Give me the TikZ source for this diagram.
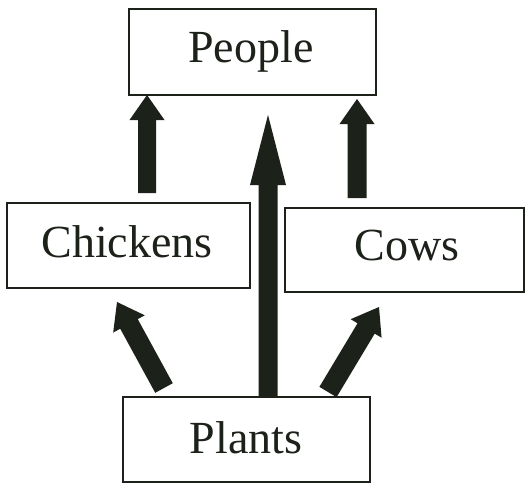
\documentclass[tikz,border=0pt]{standalone}
\usepackage{fontspec}
\setmainfont{Liberation Serif}
\usetikzlibrary{calc}
\definecolor{ink}{HTML}{1C2119}
\newcommand\blockarr[5]{% start, end, head length, shaft half width, head half width
  \coordinate (hb) at ($(#2)!#3!(#1)$);
  \fill[ink] ($(#1)!#4!90:(#2)$) -- ($(hb)!#4!-90:(#1)$) -- ($(hb)!#5!-90:(#1)$)
    -- (#2) -- ($(hb)!#5!90:(#1)$) -- ($(hb)!#4!90:(#1)$) -- ($(#1)!#4!-90:(#2)$) -- cycle;}
\begin{document}
\begin{tikzpicture}[x=1pt,y=-1pt,
  box/.style={draw=ink,line width=1.3pt,rectangle,inner sep=0pt},
  lbl/.style={anchor=base,inner sep=0pt,text=ink,font=\fontsize{46}{46}\selectfont}]
\useasboundingbox[fill=white] (0,0) rectangle (526,484);
% boxes
\node[box,minimum width=247pt,minimum height=86pt] (people) at (252.5,52) {};
\node[box,minimum width=243pt,minimum height=85pt] (chickens) at (128.5,245.5) {};
\node[box,minimum width=239pt,minimum height=84pt] (cows) at (404.5,250) {};
\node[box,minimum width=247pt,minimum height=85pt] (plants) at (246.5,439.5) {};
% labels
\node[lbl] (tpeople) at (251,63) {People};
\node[lbl] (tchickens) at (127,257) {Chickens};
\node[lbl] (tcows) at (407,260) {Cows};
\node[lbl] (tplants) at (246,453) {Plants};
% arrow endpoints
\coordinate (a1s) at (147,193);
\coordinate (a1e) at (147,95);
\coordinate (a2s) at (357,198);
\coordinate (a2e) at (357,99);
\coordinate (a3s) at (268,397);
\coordinate (a3e) at (268,115);
\coordinate (a4s) at (164,388);
\coordinate (a4e) at (117,302);
\coordinate (a5s) at (328,392);
\coordinate (a5e) at (379,307);
% arrows
\blockarr{a1s}{a1e}{25pt}{9pt}{17.5pt}
\blockarr{a2s}{a2e}{25pt}{9.5pt}{17.5pt}
\blockarr{a3s}{a3e}{70pt}{9.5pt}{18pt}
\blockarr{a4s}{a4e}{25pt}{10pt}{18pt}
\blockarr{a5s}{a5e}{25pt}{10pt}{18pt}
\end{tikzpicture}
\end{document}
